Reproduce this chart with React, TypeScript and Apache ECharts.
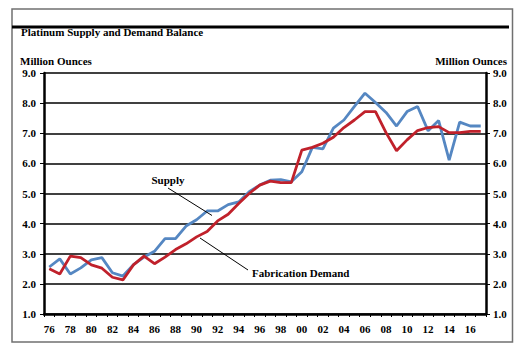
import React, { useEffect, useRef } from "react";
import * as echarts from "echarts";

const years: string[] = [
  "76","77","78","79","80","81","82","83","84","85","86","87","88","89","90","91","92","93","94","95","96","97","98","99",
  "00","01","02","03","04","05","06","07","08","09","10","11","12","13","14","15","16","17",
];

const supply: number[] = [
  2.56, 2.83, 2.33, 2.53, 2.8, 2.87, 2.37, 2.26, 2.64, 2.89, 3.08, 3.5, 3.5, 3.92, 4.13, 4.42, 4.42, 4.63, 4.72, 5.06, 5.28, 5.44, 5.46, 5.39,
  5.72, 6.53, 6.48, 7.17, 7.44, 7.89, 8.33, 8.02, 7.69, 7.24, 7.72, 7.89, 7.08, 7.42, 6.11, 7.37, 7.24, 7.24,
];

const fabricationDemand: number[] = [
  2.5, 2.33, 2.92, 2.87, 2.63, 2.52, 2.22, 2.13, 2.63, 2.92, 2.67, 2.89, 3.14, 3.33, 3.56, 3.74, 4.09, 4.31, 4.67, 5.0, 5.28, 5.41, 5.36, 5.36,
  6.44, 6.53, 6.67, 6.87, 7.19, 7.44, 7.72, 7.72, 7.02, 6.42, 6.78, 7.09, 7.19, 7.22, 7.02, 7.02, 7.06, 7.06,
];

const FONT = "'Liberation Serif', 'Times New Roman', serif";

export default function App() {
  const ref = useRef<HTMLDivElement>(null);
  useEffect(() => {
    document.body.style.margin = "0";
    if (!ref.current) return;
    const chart = echarts.init(ref.current, null, { renderer: "svg" });
    const labelStyle = { fontFamily: FONT, fontWeight: "bold" as const, fontSize: 11, color: "#000" };
    const yAxisBase = {
      type: "value" as const,
      min: 1,
      max: 9,
      interval: 1,
      axisLine: { show: true, lineStyle: { color: "#000", width: 2.5 } },
      axisTick: { show: true, length: 4, lineStyle: { color: "#000", width: 1 } },
    };
    chart.setOption({
      animation: false,
      backgroundColor: "#fff",
      grid: { left: 44, right: 40, top: 73, bottom: 42, containLabel: false },
      xAxis: {
        type: "category",
        data: years,
        boundaryGap: true,
        axisLine: { lineStyle: { color: "#000", width: 2.5 } },
        axisTick: { show: true, interval: 0, length: 3, lineStyle: { color: "#000", width: 1 } },
        axisLabel: { ...labelStyle, interval: 1, margin: 9 },
      },
      yAxis: [
        {
          ...yAxisBase,
          position: "left",
          axisLabel: { ...labelStyle, margin: 8, formatter: (v: number) => v.toFixed(1) },
          splitLine: { show: true, lineStyle: { color: "#000", width: 1.5 } },
        },
        {
          ...yAxisBase,
          position: "right",
          axisLabel: { ...labelStyle, margin: 7, formatter: (v: number) => v.toFixed(1) },
          splitLine: { show: false },
        },
      ],
      series: [
        {
          name: "Supply",
          type: "line",
          data: supply,
          symbol: "none",
          lineStyle: { color: "#5587C2", width: 2.8 },
          z: 3,
        },
        {
          name: "Fabrication Demand",
          type: "line",
          data: fabricationDemand,
          symbol: "none",
          lineStyle: { color: "#C0212B", width: 2.8 },
          z: 4,
        },
      ],
      graphic: [
        {
          type: "rect",
          shape: { x: 12, y: 9, width: 500.5, height: 333 },
          style: { fill: "none", stroke: "#707070", lineWidth: 1.5 },
          silent: true,
        },
        {
          type: "rect",
          shape: { x: 12, y: 25.5, width: 497, height: 3 },
          style: { fill: "#000" },
          silent: true,
        },
        {
          type: "text",
          x: 21,
          y: 26,
          style: { text: "Platinum Supply and Demand Balance", font: `bold 11px ${FONT}`, fill: "#000", textBaseline: "alphabetic" },
        },
        {
          type: "text",
          x: 20,
          y: 61,
          style: { text: "Million Ounces", font: `bold 11px ${FONT}`, fill: "#000", textVerticalAlign: "middle" },
        },
        {
          type: "text",
          x: 507,
          y: 61,
          style: { text: "Million Ounces", font: `bold 11px ${FONT}`, fill: "#000", textAlign: "right", textVerticalAlign: "middle" },
        },
        {
          type: "text",
          x: 168,
          y: 180,
          style: { text: "Supply", font: `bold 11px ${FONT}`, fill: "#000", textAlign: "center", textVerticalAlign: "middle" },
          z: 10,
        },
        {
          type: "line",
          shape: { x1: 168, y1: 188, x2: 212, y2: 215.5 },
          style: { stroke: "#000", lineWidth: 1 },
          z: 10,
        },
        {
          type: "text",
          x: 252,
          y: 273,
          style: { text: "Fabrication Demand", font: `bold 11px ${FONT}`, fill: "#000", textVerticalAlign: "middle" },
          z: 10,
        },
        {
          type: "line",
          shape: { x1: 200, y1: 238, x2: 248, y2: 270 },
          style: { stroke: "#000", lineWidth: 1 },
          z: 10,
        },
      ],
    });
    return () => chart.dispose();
  }, []);
  return <div ref={ref} style={{ width: 526, height: 356 }} />;
}
